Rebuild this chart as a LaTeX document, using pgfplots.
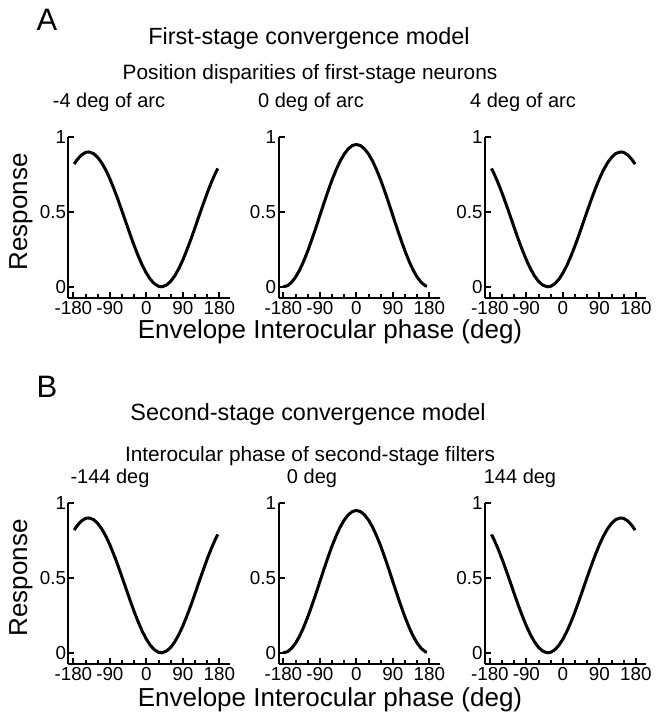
\documentclass[border=0pt]{standalone}
\usepackage{fontspec}
\setmainfont{Liberation Sans}
\usepackage{pgfplots}
\usepackage{pgfplotstable}
\pgfplotsset{compat=1.18}

% tuning curves (same in both rows)
\pgfplotstableread{
x y
-178 0.819
-170 0.851
-160 0.880
-150 0.897
-143 0.900
-140 0.899
-130 0.889
-120 0.864
-110 0.827
-100 0.779
-90 0.721
-80 0.654
-70 0.582
-60 0.505
-50 0.427
-40 0.349
-30 0.274
-20 0.205
-10 0.143
0 0.091
10 0.049
20 0.020
30 0.003
37 0.000
40 0.001
50 0.012
60 0.036
70 0.073
80 0.121
90 0.179
100 0.246
110 0.318
120 0.395
130 0.474
140 0.551
150 0.626
160 0.695
170 0.757
176 0.790
}\leftdata

\pgfplotstableread{
x y
-180 0.000
-170 0.007
-160 0.029
-150 0.064
-140 0.111
-130 0.170
-120 0.238
-110 0.313
-100 0.393
-90 0.475
-80 0.558
-70 0.637
-60 0.713
-50 0.780
-40 0.839
-30 0.886
-20 0.921
-10 0.943
0 0.950
10 0.943
20 0.921
30 0.886
40 0.839
50 0.780
60 0.713
70 0.637
80 0.558
90 0.475
100 0.393
110 0.313
120 0.238
130 0.170
140 0.111
150 0.064
160 0.029
170 0.007
174 0.003
}\middata

\pgfplotstableread{
x y
-176 0.790
-170 0.757
-160 0.695
-150 0.626
-140 0.551
-130 0.474
-120 0.395
-110 0.318
-100 0.246
-90 0.179
-80 0.121
-70 0.073
-60 0.036
-50 0.012
-40 0.001
-37 0.000
-30 0.003
-20 0.020
-10 0.049
0 0.091
10 0.143
20 0.205
30 0.274
40 0.349
50 0.427
60 0.505
70 0.582
80 0.654
90 0.721
100 0.779
110 0.827
120 0.864
130 0.889
140 0.899
143 0.900
150 0.897
160 0.880
170 0.851
178 0.819
}\rightdata

\pgfplotsset{
  panel/.style={
    scale only axis, width=80.5pt, height=80.5pt,
    xmin=-192, xmax=205, ymin=-0.075, ymax=1,
    axis lines*=left, axis line style={line width=1pt, -},
    xtick={-180,-90,0,90,180}, xticklabels={-180,-90,0,90,180},
    minor xtick={-150,-120,-60,-30,30,60,120,150},
    ytick={0,0.5,1}, yticklabels={0,0.5,1},
    tick align=inside, major tick length=3pt, minor tick length=2pt,
    tick style={line width=1pt, black},
    ticklabel style={font=\fontsize{9.4}{11}\selectfont},
    xticklabel style={inner sep=0pt, yshift=-1pt, text height=0.72em, text depth=0pt},
    yticklabel style={inner sep=1pt},
    /pgf/number format/assume math mode=true,
    clip=false,
  },
  curve/.style={black, line width=1.5pt, no marks},
}
\tikzset{txt/.style={inner sep=0pt}, lab/.style={inner sep=0pt, text height=0.74em, text depth=0.2em}}

\begin{document}
\begin{tikzpicture}
\path (0,0) rectangle (329pt,359pt);

% row A
\begin{axis}[panel, at={(34.25pt,210pt)}, anchor=south west]
\addplot[curve] table[x=x, y=y] {\leftdata};
\end{axis}
\begin{axis}[panel, at={(139.25pt,210pt)}, anchor=south west]
\addplot[curve] table[x=x, y=y] {\middata};
\end{axis}
\begin{axis}[panel, at={(242.5pt,210pt)}, anchor=south west]
\addplot[curve] table[x=x, y=y] {\rightdata};
\end{axis}

% row B
\begin{axis}[panel, at={(34.25pt,27pt)}, anchor=south west]
\addplot[curve] table[x=x, y=y] {\leftdata};
\end{axis}
\begin{axis}[panel, at={(139.25pt,27pt)}, anchor=south west]
\addplot[curve] table[x=x, y=y] {\middata};
\end{axis}
\begin{axis}[panel, at={(242.5pt,27pt)}, anchor=south west]
\addplot[curve] table[x=x, y=y] {\rightdata};
\end{axis}

% texts
\node[txt, font=\fontsize{15.5}{18}\selectfont] at (23.5pt,349pt) {A};
\node[txt, font=\fontsize{11.7}{14}\selectfont] at (154.5pt,340pt) {First-stage convergence model};
\node[txt, font=\fontsize{10.4}{12}\selectfont] at (155pt,322pt) {Position disparities of first-stage neurons};
\node[txt, font=\fontsize{10}{12}\selectfont] at (54.5pt,308pt) {-4 deg of arc};
\node[txt, font=\fontsize{10}{12}\selectfont] at (155.5pt,308pt) {0 deg of arc};
\node[txt, font=\fontsize{10}{12}\selectfont] at (261.5pt,308pt) {4 deg of arc};
\node[txt, font=\fontsize{13}{15}\selectfont, rotate=90] at (10.5pt,253pt) {Response};
\node[lab, font=\fontsize{13}{15}\selectfont] at (165pt,192.5pt) {Envelope Interocular phase (deg)};

\node[txt, font=\fontsize{15.5}{18}\selectfont] at (23.5pt,165.5pt) {B};
\node[txt, font=\fontsize{11.7}{14}\selectfont] at (154pt,152pt) {Second-stage convergence model};
\node[txt, font=\fontsize{10.4}{12}\selectfont] at (155pt,131pt) {Interocular phase of second-stage filters};
\node[txt, font=\fontsize{10}{12}\selectfont] at (55pt,120pt) {-144 deg};
\node[txt, font=\fontsize{10}{12}\selectfont] at (156pt,120pt) {0 deg};
\node[txt, font=\fontsize{10}{12}\selectfont] at (260pt,120pt) {144 deg};
\node[txt, font=\fontsize{13}{15}\selectfont, rotate=90] at (10.5pt,70pt) {Response};
\node[lab, font=\fontsize{13}{15}\selectfont] at (165pt,8.5pt) {Envelope Interocular phase (deg)};
\end{tikzpicture}
\end{document}
